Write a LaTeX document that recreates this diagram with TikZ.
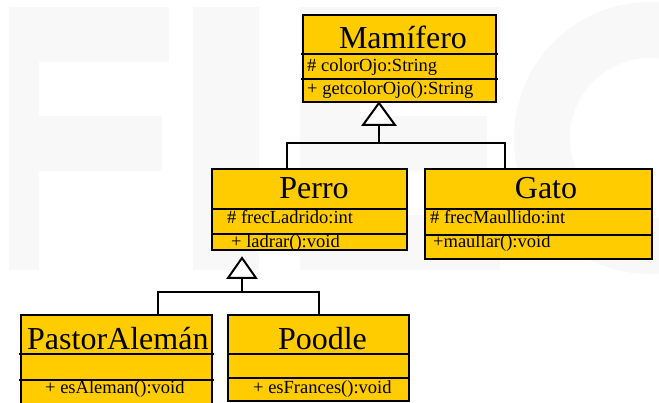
\documentclass[tikz,border=0pt]{standalone}
\usepackage{fontspec}
\setmainfont{Liberation Serif}
\definecolor{umlfill}{RGB}{255,204,0}
\definecolor{wm}{RGB}{248,248,248}
\begin{document}
\begin{tikzpicture}[x=1pt,y=-1pt,
  box/.style={draw=black, fill=umlfill, line width=2pt, inner sep=0pt, outer sep=0pt, anchor=north west},
  sepline/.style={line width=2pt},
  link/.style={line width=2pt},
  gen/.style={line width=2pt, fill=white, line join=miter},
  title/.style={font=\fontsize{32}{32}\selectfont, inner sep=0pt, anchor=base},
  member/.style={font=\fontsize{18.5}{18.5}\selectfont, inner sep=0pt, anchor=base west}]
\useasboundingbox (0,0) rectangle (659,403);
\begin{scope}
\clip (0,0) rectangle (659,403);
% watermark
\fill[wm] (9,7) rectangle (169,62);
\fill[wm] (9,62) rectangle (39,270);
\fill[wm] (39,116) rectangle (162,171);
\fill[wm] (193,7) rectangle (259,270);
\fill[wm] (300,7) rectangle (500,62);
\fill[wm] (300,62) rectangle (360,270);
\fill[wm] (360,116) rectangle (487,171);
\fill[wm] (360,215) rectangle (500,270);
\fill[wm, even odd rule] (650,138) circle[radius=136] (650,138) circle[radius=80];
% boxes
\node[box, minimum width=193, minimum height=87] (mam) at (303,15) {};
\node[box, minimum width=195, minimum height=81] (perro) at (212,169) {};
\node[box, minimum width=227, minimum height=90] (gato) at (425,169) {};
\node[box, minimum width=191, minimum height=92] (pastor) at (21,315) {};
\node[box, minimum width=181, minimum height=86] (poodle) at (228,315) {};
\end{scope}
% separators
\draw[sepline] (301,54) -- (498,54) (301,79) -- (498,79);
\draw[sepline] (perro.west |- 0,209) -- (perro.east |- 0,209) (perro.west |- 0,234) -- (perro.east |- 0,234);
\draw[sepline] (gato.west |- 0,209) -- (gato.east |- 0,209) (gato.west |- 0,235) -- (gato.east |- 0,235);
\draw[sepline] (19,354) -- (214,354) (19,380) -- (214,380);
\draw[sepline] (poodle.west |- 0,354) -- (poodle.east |- 0,354) (poodle.west |- 0,378) -- (poodle.east |- 0,378);
% texts
\node[title] (tmam) at (403,49) {Mamífero};
\node[member] (amam) at (307,72) {\# colorOjo:String};
\node[member] (mmam) at (307,95) {+ getcolorOjo():String};
\node[title] (tperro) at (314,199) {Perro};
\node[member] (aperro) at (227,224) {\# frecLadrido:int};
\node[member] (mperro) at (231,248) {+ ladrar():void};
\node[title] (tgato) at (546,199) {Gato};
\node[member] (agato) at (430,224) {\# frecMaullido:int};
\node[member] (mgato) at (433,248) {+maullar():void};
\begin{scope}
\clip (21,315) rectangle (213,403);
\node[title, anchor=base west] (tpastor) at (27,350) {PastorAlemán};
\end{scope}
\node[member] (mpastor) at (45,394) {+ esAleman():void};
\node[title] (tpoodle) at (322.5,350) {Poodle};
\node[member] (mpoodle) at (253,394) {+ esFrances():void};
% generalisation: Perro, Gato -> Mamifero
\coordinate (apex1) at (379,103);
\coordinate (base1) at (379,125);
\coordinate (bar1) at (379,143);
\draw[link] (perro.north -| 287,0) |- (bar1) -| (gato.north -| 505,0);
\draw[link] (bar1) -- (base1);
\draw[gen] (apex1) -- ++(-16,22) -- ++(32,0) -- cycle;
% generalisation: PastorAleman, Poodle -> Perro
\coordinate (apex2) at (242,258);
\coordinate (base2) at (242,278);
\coordinate (bar2) at (242,292);
\draw[link] (pastor.north -| 158,0) |- (bar2) -| (poodle.north -| 319,0);
\draw[link] (bar2) -- (base2);
\draw[gen] (apex2) -- ++(-14,20) -- ++(28,0) -- cycle;
\end{tikzpicture}
\end{document}
